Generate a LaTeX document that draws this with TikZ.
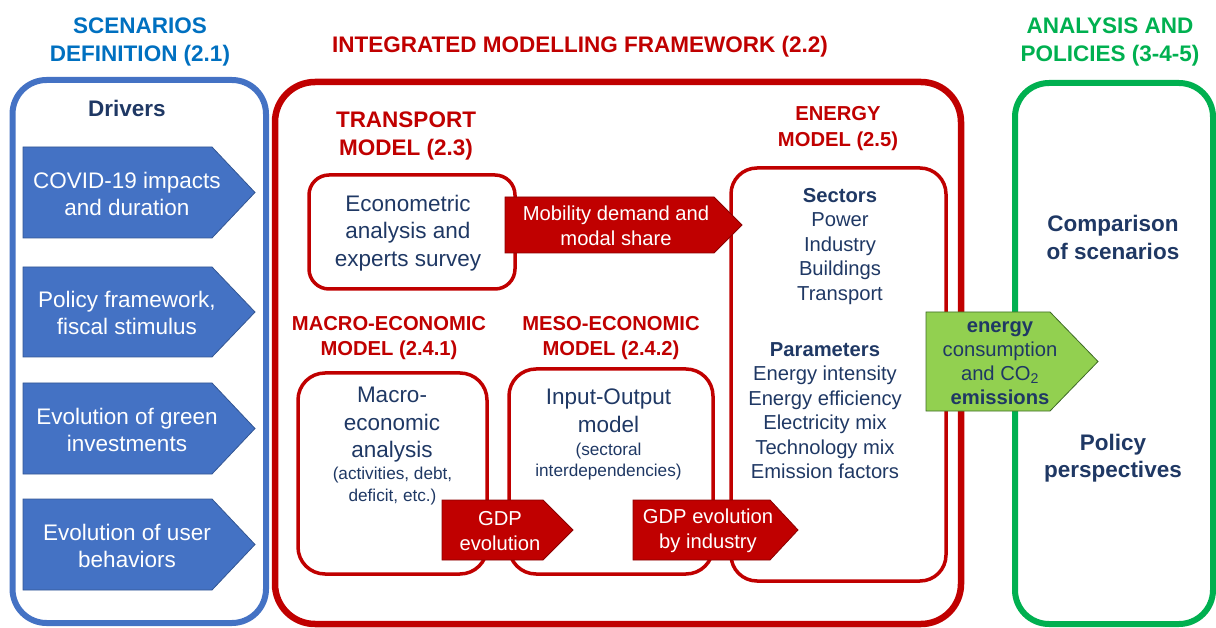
\documentclass[tikz,border=0pt]{standalone}
\usepackage{fontspec}
\setmainfont{Liberation Sans}
\definecolor{scenblue}{HTML}{4472C4}
\definecolor{scentitle}{HTML}{0070C0}
\definecolor{modred}{HTML}{C00000}
\definecolor{arrowedge}{HTML}{8A0000}
\definecolor{polgreen}{HTML}{00B050}
\definecolor{lightgreen}{HTML}{92D050}
\definecolor{greenedge}{HTML}{3F6B27}
\definecolor{navy}{HTML}{1F3864}
\newcommand\fsz[2]{\fontsize{#1}{#2}\selectfont}
\begin{document}
\begin{tikzpicture}[x=1pt,y=-1pt,
  frame/.style={draw, line width=6pt, rounded corners=34pt, inner sep=0pt},
  inbox/.style={draw=modred, line width=3.5pt, rounded corners=24pt, inner sep=0pt},
  bluearrow/.style={fill=scenblue, draw=scenblue!75!black, line width=0.8pt},
  redarrow/.style={fill=modred, draw=arrowedge, line width=0.8pt},
  greenarrow/.style={fill=lightgreen, draw=greenedge, line width=0.8pt},
  heading/.style={font=\fsz{22.5}{28}\bfseries, align=center, inner sep=0pt},
  subhead/.style={font=\fsz{20.2}{25.5}\bfseries, text=modred, align=center, inner sep=0pt},
  whitetext/.style={text=white, align=center, inner sep=0pt},
  navytext/.style={text=navy, align=center, inner sep=0pt}]
\useasboundingbox (0,0) rectangle (1216,628);

% outer frames
\node[frame, draw=scenblue, minimum width=253.5pt, minimum height=543pt] (scen) at (139.25,351.5) {};
\node[frame, draw=modred, line width=6.5pt, rounded corners=40pt, minimum width=686pt, minimum height=542pt] (imf) at (618,353) {};
\node[frame, draw=polgreen, minimum width=198pt, minimum height=541pt] (pol) at (1114,353.5) {};

% frame titles
\node[heading, text=scentitle] (scentitle) at (140,42) {SCENARIOS\\DEFINITION (2.1)};
\node[heading, text=modred] (imftitle) at (580,47) {INTEGRATED MODELLING FRAMEWORK (2.2)};
\node[heading, text=polgreen] (poltitle) at (1110,42) {ANALYSIS AND\\POLICIES (3-4-5)};

% drivers
\node[navytext, font=\fsz{22.5}{27}\bfseries] (drivers) at (127,108.5) {Drivers};
\foreach \top/\bot in {147/238, 267/357, 383/474, 499/590}
  \draw[bluearrow] (23,\top) -- (212,\top) -- (255,{(\top+\bot)/2}) -- (212,\bot) -- (23,\bot) -- cycle;
\node[whitetext, font=\fsz{22.5}{27}] (d1) at (127,193.5) {COVID-19 impacts\\and duration};
\node[whitetext, font=\fsz{22.5}{27}] (d2) at (127,313) {Policy framework,\\fiscal stimulus};
\node[whitetext, font=\fsz{22.5}{27}] (d3) at (127,430) {Evolution of green\\investments};
\node[whitetext, font=\fsz{22.5}{27}] (d4) at (127,546) {Evolution of user\\behaviors};

% model boxes
\node[inbox, rounded corners=20pt, minimum width=206pt, minimum height=114pt] (econ) at (412,232) {};
\node[inbox, rounded corners=27pt, minimum width=189pt, minimum height=201pt] (macro) at (392.5,473.5) {};
\node[inbox, rounded corners=27pt, minimum width=204pt, minimum height=205pt] (meso) at (611,471.5) {};
\node[inbox, rounded corners=26pt, minimum width=215pt, minimum height=413pt] (energy) at (838.5,374.5) {};

% model titles
\node[heading, text=modred] (transtitle) at (406,136) {TRANSPORT\\MODEL (2.3)};
\node[subhead] (macrotitle) at (389,338) {MACRO-ECONOMIC\\MODEL (2.4.1)};
\node[subhead] (mesotitle) at (611,338) {MESO-ECONOMIC\\MODEL (2.4.2)};
\node[subhead] (energytitle) at (838,128.5) {ENERGY\\MODEL (2.5)};

% model contents
\node[navytext, font=\fsz{22.5}{27.5}] (econtext) at (408,233) {Econometric\\analysis and\\experts survey};
\node[navytext, font=\fsz{22.5}{27.5}, anchor=north] (macrotext) at (392,387) {Macro-\\economic\\analysis};
\node[navytext, font=\fsz{17.2}{21.5}, anchor=north] (macrosub) at (392.5,467) {(activities, debt,\\deficit, etc.)};
\node[navytext, font=\fsz{22.5}{27.5}, anchor=north] (mesotext) at (608.5,389) {Input-Output\\model};
\node[navytext, font=\fsz{17.2}{21.5}, anchor=north] (mesosub) at (608.5,442.5) {(sectoral\\interdependencies)};
\node[navytext, font=\fsz{20.2}{24.5}, anchor=north] (sectors) at (840,188) {\textbf{Sectors}\\Power\\Industry\\Buildings\\Transport};
\node[navytext, font=\fsz{20.2}{24.5}, anchor=north] (params) at (825,342) {\textbf{Parameters}\\Energy intensity\\Energy efficiency\\Electricity mix\\Technology mix\\Emission factors};

% flows between models
\draw[redarrow] (505,197) -- (714,197) -- (742,225) -- (714,253) -- (505,253) -- cycle;
\node[whitetext, font=\fsz{20.2}{24.5}] (mobility) at (616,226) {Mobility demand and\\modal share};
\draw[redarrow] (442,500) -- (543,500) -- (573,530) -- (543,560) -- (442,560) -- cycle;
\node[whitetext, font=\fsz{20.2}{25}] (gdp) at (500,531) {GDP\\evolution};
\draw[redarrow] (633,500) -- (770,500) -- (798,530) -- (770,560) -- (633,560) -- cycle;
\node[whitetext, font=\fsz{20.2}{25}] (gdpind) at (708,531) {GDP evolution\\by industry};
\draw[greenarrow] (926,312) -- (1050,312) -- (1098,361.5) -- (1050,411) -- (926,411) -- cycle;
\node[navytext, font=\fsz{20.2}{24}] (emis) at (1000,363.5) {\textbf{energy}\\consumption\\and CO\textsubscript{2}\\\textbf{emissions}};

% analysis outputs
\node[navytext, font=\fsz{22.5}{27.5}\bfseries] (compare) at (1113,237.5) {Comparison\\of scenarios};
\node[navytext, font=\fsz{22.5}{27.5}\bfseries] (policy) at (1113,458) {Policy\\perspectives};
\end{tikzpicture}
\end{document}
